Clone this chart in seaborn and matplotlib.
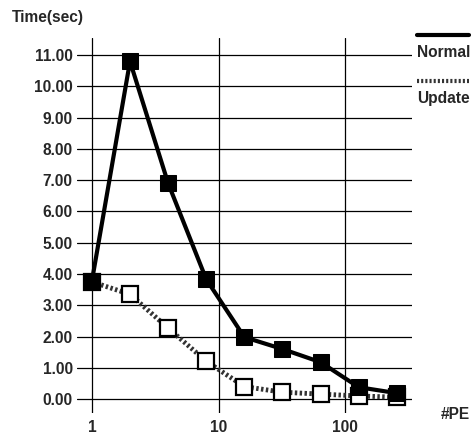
import numpy as np
import pandas as pd
import seaborn as sns
import matplotlib.pyplot as plt
from matplotlib.lines import Line2D

# data
pe = [1, 2, 4, 8, 16, 32, 64, 128, 256]
normal_time = [3.77, 10.80, 6.90, 3.83, 1.98, 1.60, 1.18, 0.38, 0.19]
update_time = [3.75, 3.35, 2.27, 1.21, 0.40, 0.22, 0.16, 0.10, 0.06]
y_ticks = [0, 1, 2, 3, 4, 5, 6, 7, 8, 9, 10, 11]
x_ticks = [1, 10, 100]

sns.set_style("white")
plt.rcParams['font.family'] = ['Liberation Sans', 'DejaVu Sans']
fs = 11.2

fig = plt.figure(figsize=(4.77, 4.34), dpi=100)
ax = fig.add_axes([0.161, 0.048, 0.703, 0.864])

# grid lines first
for y in y_ticks:
    ax.axhline(y, color="black", lw=0.9, zorder=1)
for x in x_ticks:
    ax.axvline(x, color="black", lw=0.9, zorder=1)

df_n = pd.DataFrame({"pe": pe, "t": normal_time})
df_u = pd.DataFrame({"pe": pe, "t": update_time})

sns.lineplot(data=df_u, x="pe", y="t", ax=ax, color="#333333", lw=3.5,
             linestyle=(0, (0.5, 0.5)), marker="s", markersize=11,
             markerfacecolor="white", markeredgecolor="black", markeredgewidth=1.6, zorder=3)
sns.lineplot(data=df_n, x="pe", y="t", ax=ax, color="black", lw=3,
             marker="s", markersize=12, markerfacecolor="black",
             markeredgecolor="black", zorder=4)

ax.set_xscale("log")
ax.set_xlim(0.76, 338)
ax.set_ylim(-0.45, 11.54)
ax.set_yticks(y_ticks)
ax.set_yticklabels(["%.2f" % v for v in y_ticks], fontsize=fs, fontweight="bold")
ax.set_xticks(x_ticks)
ax.set_xticklabels([str(v) for v in x_ticks], fontsize=fs, fontweight="bold")
ax.minorticks_off()
ax.tick_params(axis="both", length=0, pad=3)
ax.tick_params(axis="x", pad=5)
for s in ax.spines.values():
    s.set_visible(False)
ax.set_xlabel("")
ax.set_ylabel("")

fig.text(0.025, 0.96, "Time(sec)", fontsize=fs, fontweight="bold", va="center")
fig.text(0.955, 0.044, "#PE", fontsize=fs, fontweight="bold", ha="center", va="center")

# legend drawn as in the original: line above the label
fig.add_artist(Line2D([0.874, 0.983], [0.919, 0.919], color="black", lw=3))
fig.text(0.874, 0.88, "Normal", fontsize=fs, fontweight="bold", va="center")
fig.add_artist(Line2D([0.874, 0.983], [0.813, 0.813], color="#333333", lw=3,
                      linestyle=(0, (0.5, 0.5))))
fig.text(0.874, 0.774, "Update", fontsize=fs, fontweight="bold", va="center")

fig.savefig("out.png", dpi=100)
